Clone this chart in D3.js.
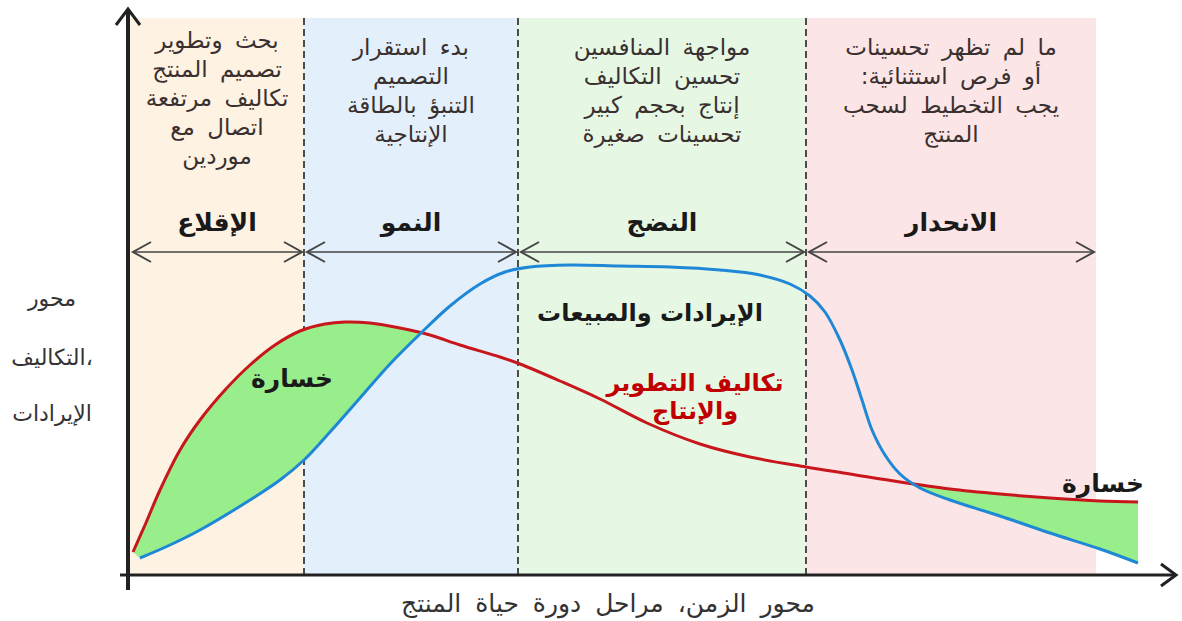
<!DOCTYPE html>
<html lang="ar">
<head>
<meta charset="utf-8">
<script src="https://cdn.jsdelivr.net/npm/d3@7"></script>
<style>
  html, body { margin: 0; padding: 0; background: #fff; }
  svg { display: block; }
  text { font-family: "DejaVu Sans", sans-serif; }
</style>
</head>
<body>
<svg id="chart" width="1182" height="621"></svg>
<script>
// Product life cycle stages (time units on the horizontal axis)
const stageNames = ["الإقلاع", "النمو", "النضج", "الانحدار"];
const stageBounds = [0, 17.4, 38.8, 67.6, 96.6];
const stageColors = ["#fef3e3", "#e3f0fb", "#e6f8e4", "#fce5e6"];
const stageNotes = [
  ["بحث وتطوير", "تصميم المنتج", "تكاليف مرتفعة", "اتصال مع", "موردين"],
  ["بدء استقرار", "التصميم", "التنبؤ بالطاقة", "الإنتاجية"],
  ["مواجهة المنافسين", "تحسين التكاليف", "إنتاج بحجم كبير", "تحسينات صغيرة"],
  ["ما لم تظهر تحسينات", "أو فرص استثنائية:", "يجب التخطيط لسحب", "المنتج"]
];

// Development & production costs over time
const costT = [0.3, 1.5, 3, 5, 7, 9.5, 12, 14.5, 17, 19.5, 21.5, 24, 27, 30, 33, 37, 39, 43, 47, 51.7, 57, 62, 67.6, 72, 77, 82, 87, 92, 97, 100.8];
const costV = [2.3, 5.0, 8.5, 12.5, 15.5, 18.5, 21, 23, 24.4, 25.1, 25.3, 25.2, 24.7, 24.0, 23.0, 21.8, 21.1, 19.4, 17.6, 15.2, 13.1, 11.8, 10.8, 10.1, 9.3, 8.6, 8.1, 7.7, 7.4, 7.3];

// Revenues & sales over time
const revT = [1, 4, 7, 12, 15, 17.4, 20, 23, 26, 29, 32, 35, 37.5, 40, 44, 49, 54, 59, 63, 66, 68, 69.5, 71, 72.2, 73.2, 74.2, 75.5, 77, 79, 82, 87, 92, 97, 100.8];
const revV = [1.7, 3.0, 4.5, 7.5, 9.5, 11.5, 14.3, 17.7, 21.1, 24.1, 26.9, 29.1, 30.3, 30.8, 31, 30.9, 30.8, 30.5, 30, 29.1, 27.9, 26.3, 23.5, 20.5, 17.5, 14.5, 12, 10.1, 8.7, 7.5, 5.9, 4.2, 2.6, 1.2];

const axisTitleY = ["محور", "التكاليف،", "الإيرادات"];
const axisTitleX = "محور الزمن، مراحل دورة حياة المنتج";
const lossLabel = "خسارة";
const revLabel = "الإيرادات والمبيعات";
const costLabel = ["تكاليف التطوير", "والإنتاج"];

const svg = d3.select("#chart");
const x = d3.scaleLinear().domain([0, 101]).range([130, 1140]);
const y = d3.scaleLinear().domain([0, 56]).range([575, 15]);
const bandTop = 55.7;

const cost = costT.map((t, i) => [t, costV[i]]);
const rev = revT.map((t, i) => [t, revV[i]]);

// Stage background bands
svg.append("g").selectAll("rect")
  .data(stageNames)
  .join("rect")
  .attr("x", (d, i) => x(stageBounds[i]))
  .attr("y", y(bandTop))
  .attr("width", (d, i) => x(stageBounds[i + 1]) - x(stageBounds[i]))
  .attr("height", y(0) - y(bandTop))
  .attr("fill", (d, i) => stageColors[i]);

// Dashed stage separators
svg.append("g").selectAll("line")
  .data(stageBounds.slice(1, 4))
  .join("line")
  .attr("x1", d => x(d)).attr("x2", d => x(d))
  .attr("y1", y(bandTop)).attr("y2", y(0))
  .attr("stroke", "#3a3a3a").attr("stroke-width", 1.8)
  .attr("stroke-dasharray", "7,4");

// Stage notes
const notes = svg.append("g").attr("fill", "#3a3030").attr("font-size", 23)
  .attr("word-spacing", 5).attr("text-anchor", "middle");
stageNotes.forEach((lines, i) => {
  const cx = (x(stageBounds[i]) + x(stageBounds[i + 1])) / 2;
  const top = i === 0 ? 40 : 47;
  lines.forEach((s, j) => {
    notes.append("text")
      .attr("x", cx).attr("y", top + j * 29)
      .attr("dy", "0.35em")
      .attr("direction", "rtl")
      .text(s);
  });
});

// Stage names
svg.append("g").selectAll("text")
  .data(stageNames)
  .join("text")
  .attr("x", (d, i) => (x(stageBounds[i]) + x(stageBounds[i + 1])) / 2)
  .attr("y", 222).attr("dy", "0.35em")
  .attr("text-anchor", "middle")
  .attr("font-size", 25).attr("font-weight", "bold")
  .attr("fill", "#1a1a1a")
  .text(d => d);

// Double-headed stage arrows
const arrowY = 252;
const arrows = svg.append("g").attr("stroke", "#444").attr("fill", "none");
stageNames.forEach((d, i) => {
  const x0 = x(stageBounds[i]) + 3, x1 = x(stageBounds[i + 1]) - 2;
  arrows.append("line").attr("x1", x0).attr("x2", x1).attr("y1", arrowY).attr("y2", arrowY).attr("stroke-width", 1.6);
  arrows.append("path").attr("stroke-width", 2)
    .attr("d", `M${x0 + 18},${arrowY - 10}L${x0},${arrowY}L${x0 + 18},${arrowY + 10}`);
  arrows.append("path").attr("stroke-width", 2)
    .attr("d", `M${x1 - 18},${arrowY - 10}L${x1},${arrowY}L${x1 - 18},${arrowY + 10}`);
});

// Loss areas: between the two curves where costs exceed revenues
const curve = d3.curveCatmullRom.alpha(0.5);
const line = d3.line().x(d => x(d[0])).y(d => y(d[1])).curve(curve);
const costPath = line(cost);
const revRevPath = line(rev.slice().reverse());
const lossPath = costPath + "L" + revRevPath.slice(1) + "Z";
const belowCost = costPath + `L${x(cost[cost.length - 1][0])},${y(-5)}L${x(cost[0][0])},${y(-5)}Z`;

const defs = svg.append("defs");
defs.append("clipPath").attr("id", "below-cost").append("path").attr("d", belowCost);
svg.append("path")
  .attr("d", lossPath)
  .attr("fill", "#98ee8a")
  .attr("clip-path", "url(#below-cost)");

// Curves
svg.append("path").attr("d", costPath).attr("fill", "none")
  .attr("stroke", "#c8161d").attr("stroke-width", 3);
svg.append("path").attr("d", line(rev)).attr("fill", "none")
  .attr("stroke", "#1f88d6").attr("stroke-width", 3);

// Axes with open arrowheads
const ax = svg.append("g").attr("stroke", "#222").attr("fill", "none");
ax.append("line").attr("x1", 128).attr("x2", 128).attr("y1", 590).attr("y2", 9).attr("stroke-width", 4);
ax.append("path").attr("stroke-width", 3).attr("d", "M116,25L128,9L140,25");
ax.append("line").attr("x1", 120).attr("x2", 1175).attr("y1", y(0)).attr("y2", y(0)).attr("stroke-width", 3);
ax.append("path").attr("stroke-width", 3).attr("d", `M1161,${y(0) - 11}L1176,${y(0)}L1161,${y(0) + 11}`);

// Axis titles
svg.append("g").attr("fill", "#333").attr("font-size", 22).attr("text-anchor", "middle")
  .selectAll("text").data(axisTitleY).join("text")
  .attr("x", 52).attr("y", (d, i) => [298, 357, 413][i]).attr("dy", "0.35em")
  .text(d => d);
svg.append("text").attr("x", 608).attr("y", 603).attr("dy", "0.35em")
  .attr("text-anchor", "middle").attr("font-size", 25).attr("word-spacing", 6).attr("fill", "#333")
  .attr("direction", "rtl")
  .text(axisTitleX);

// Curve labels
const lbl = svg.append("g").attr("font-weight", "bold").attr("text-anchor", "middle");
lbl.append("text").attr("x", 292).attr("y", 378).attr("dy", "0.35em").attr("font-size", 25).attr("fill", "#1a1a1a").text(lossLabel);
lbl.append("text").attr("x", 1103).attr("y", 483).attr("dy", "0.35em").attr("font-size", 25).attr("fill", "#1a1a1a").text(lossLabel);
lbl.append("text").attr("x", 650).attr("y", 313).attr("dy", "0.35em").attr("font-size", 24).attr("fill", "#1a1a1a").text(revLabel);
costLabel.forEach((s, i) => {
  lbl.append("text").attr("x", 695).attr("y", 383 + i * 28).attr("dy", "0.35em")
    .attr("font-size", 24).attr("fill", "#c00000").text(s);
});
</script>
</body>
</html>
